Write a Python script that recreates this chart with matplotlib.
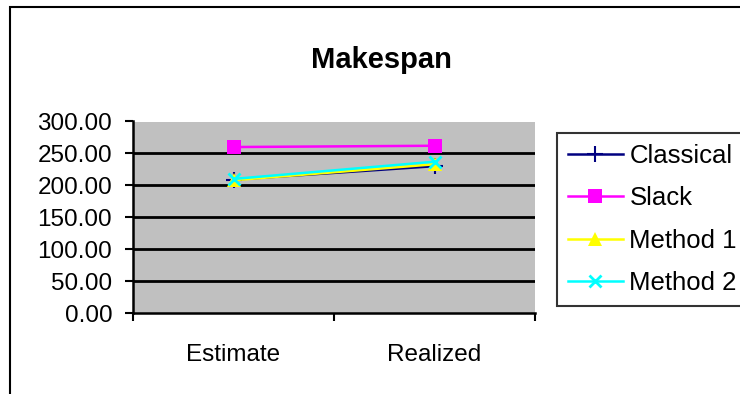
import matplotlib.pyplot as plt
import matplotlib.patches as patches

plt.rcParams['font.family'] = ['Liberation Sans', 'DejaVu Sans']

categories = ['Estimate', 'Realized']
series_names = ['Classical', 'Slack', 'Method 1', 'Method 2']
classical = [209, 230]
slack = [260, 262]
method1 = [208, 233]
method2 = [210, 237]
yticks = [0, 50, 100, 150, 200, 250, 300]

styles = [
    dict(color='#000080', marker='+', ms=11, mew=1.5),
    dict(color='#FF00FF', marker='s', ms=9.5, mew=0),
    dict(color='#FFFF00', marker='^', ms=10, mew=0),
    dict(color='#00FFFF', marker='x', ms=9, mew=2),
]

W, H = 740, 394
fig = plt.figure(figsize=(W / 100, H / 100), dpi=100)
fig.patch.set_facecolor('white')

# chart frame, partly running off the right and bottom edges
fig.add_artist(patches.Rectangle((10 / W, -0.1), 2, 1 - 7 / H + 0.1,
                                 transform=fig.transFigure, fill=False,
                                 edgecolor='black', linewidth=1.5))

ax = fig.add_axes([133 / W, 1 - 313 / H, (535 - 133) / W, (313 - 121.5) / H])
ax.set_facecolor('#C0C0C0')

for v in yticks[1:-1]:
    ax.axhline(v, color='black', linewidth=2, zorder=1)

xpos = [0.5, 1.5]
for name, vals, st in zip(series_names, [classical, slack, method1, method2], styles):
    ax.plot(xpos, vals, label=name, linewidth=1.8, zorder=3, **st)

ax.set_xlim(0, 2)
ax.set_ylim(0, 300)
ax.set_yticks(yticks)
ax.set_yticklabels([f'{v:.2f}' for v in yticks])
ax.set_xticks(xpos)
ax.set_xticklabels(categories)
ax.set_xticks([0, 1, 2], minor=True)
ax.tick_params(axis='x', which='major', length=0, pad=22, labelsize=17.5)
ax.tick_params(axis='x', which='minor', length=6, width=1.5, direction='out')
ax.tick_params(axis='y', length=6, width=1.5, pad=9, labelsize=17.5)

for s in ['top', 'right']:
    ax.spines[s].set_visible(False)
for s in ['left', 'bottom']:
    ax.spines[s].set_linewidth(1.8)
    ax.spines[s].set_zorder(4)

fig.text(381 / W, 1 - 60 / H, 'Makespan', ha='center', va='center',
         fontsize=21, fontweight='bold')

leg = fig.legend(loc='upper left', bbox_to_anchor=(557 / W, 1 - 133 / H),
                 borderaxespad=0, fontsize=18.5, frameon=True, fancybox=False,
                 edgecolor='black', handlelength=2.15, handletextpad=0.25,
                 labelspacing=0.72, borderpad=0.42)
leg.get_frame().set_linewidth(1.5)

fig.savefig('out.png', dpi=100)
